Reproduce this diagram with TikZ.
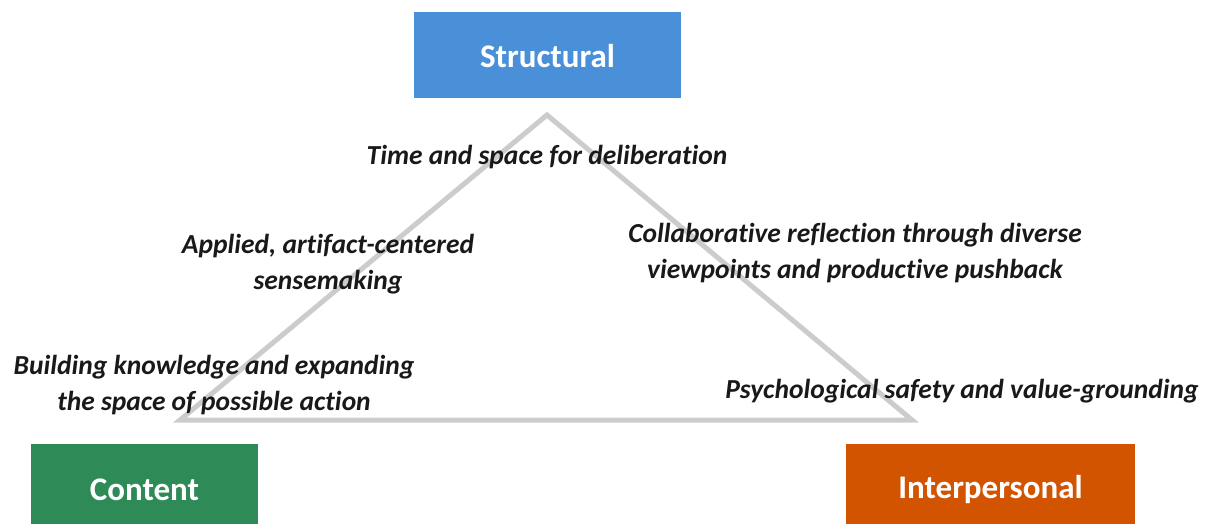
\documentclass[tikz,border=0pt]{standalone}
\usepackage{fontspec}
\setmainfont{Carlito}[Ligatures=NoCommon]
\begin{document}
\begin{tikzpicture}[x=1pt,y=-1pt,
  box/.style={fill=#1, draw=none, inner sep=0pt},
  boxtext/.style={text=white, font=\bfseries\fontsize{33}{36}\selectfont, inner sep=0pt},
  lbl/.style={font=\bfseries\itshape\fontsize{27.5}{36.5}\selectfont, text=black!90, align=center, inner sep=0pt},
  tri/.style={draw=black!20, line width=5pt, line join=miter}]
\definecolor{sblue}{RGB}{74,144,217}
\definecolor{cgreen}{RGB}{46,139,87}
\definecolor{iorange}{RGB}{211,84,0}
\useasboundingbox (0,0) rectangle (1211,524);
% triangle
\coordinate (apex) at (547,115);
\coordinate (bl) at (180,420);
\coordinate (br) at (912,420);
\draw[tri] (apex) -- (br) -- (bl) -- cycle;
% boxes
\node[box=sblue, minimum width=267pt, minimum height=86pt] (structbox) at (547.5,55) {};
\node[boxtext] (structural) at (547.5,56) {Structural};
\node[box=cgreen, minimum width=227pt, minimum height=100pt, anchor=north west] (contentbox) at (31,444) {};
\node[boxtext] (content) at (144.5,490) {Content};
\node[box=iorange, minimum width=289pt, minimum height=100pt, anchor=north west] (interbox) at (846,444) {};
\node[boxtext] (inter) at (990.5,490) {Interpersonal};
% labels
\node[lbl] (time) at (547,157) {Time and space for deliberation};
\node[lbl] (applied) at (328,264) {Applied, artifact-centered\\sensemaking};
\node[lbl] (collab) at (855,253) {Collaborative reflection through diverse\\viewpoints and productive pushback};
\node[lbl] (building) at (214,385) {Building knowledge and expanding\\the space of possible action};
\node[lbl] (psych) at (962,391) {Psychological safety and value-grounding};
\end{tikzpicture}
\end{document}
